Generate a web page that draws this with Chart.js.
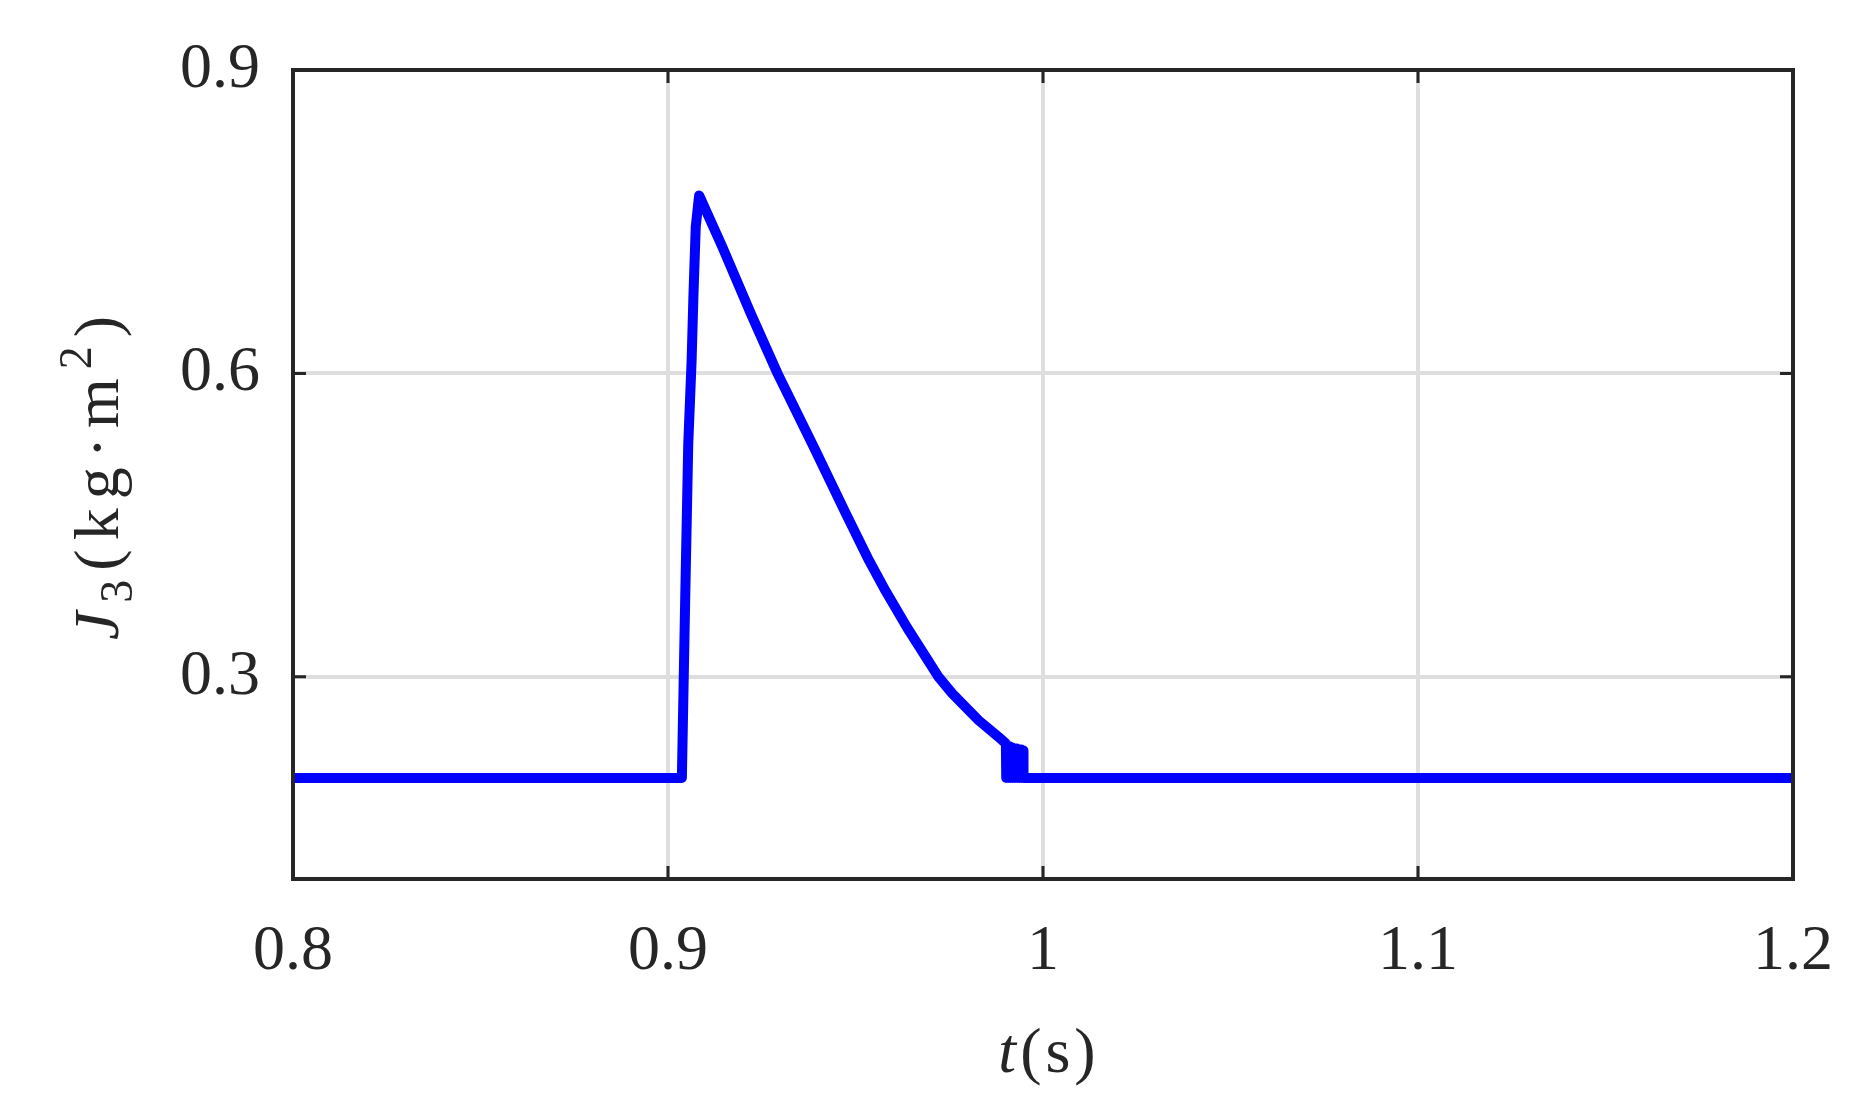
<!DOCTYPE html>
<html>
<head>
<meta charset="utf-8">
<script src="https://cdn.jsdelivr.net/npm/chart.js@4/dist/chart.umd.min.js"></script>
<style>
html,body{margin:0;padding:0;background:#fff;}
#wrap{width:1866px;height:1119px;}
</style>
</head>
<body>
<div id="wrap"><canvas id="c" width="1866" height="1119"></canvas></div>
<script>
// ---- data ----
const tData = [0.8, 0.9037, 0.9041, 0.9046, 0.9054, 0.9063, 0.9068, 0.9074, 0.9083,
  0.9145, 0.9221, 0.9292, 0.9389, 0.9474, 0.9536, 0.9580, 0.9637, 0.9721,
  0.9758, 0.9828, 0.9881, 0.9901,
  0.9902, 0.9905, 0.9908, 0.9911, 0.9914, 0.9917, 0.9920, 0.9923, 0.9926, 0.9929, 0.9932,
  0.9935, 0.9938, 0.9941, 0.9944, 0.9947, 0.9948, 1.2];
const jData = [0.2, 0.2, 0.28, 0.38, 0.53, 0.613, 0.679, 0.745, 0.776,
  0.725, 0.659, 0.600, 0.527, 0.4615, 0.415, 0.385, 0.349, 0.300,
  0.2835, 0.257, 0.2406, 0.234,
  0.2, 0.232, 0.2, 0.231, 0.2, 0.230, 0.2, 0.229, 0.2, 0.229, 0.2,
  0.228, 0.2, 0.228, 0.2, 0.227, 0.2, 0.2];
const xTicks = [0.8, 0.9, 1.0, 1.1, 1.2];
const yTicks = [0.3, 0.6, 0.9];
const xRange = [0.8, 1.2];
const yRange = [0.1, 0.9];

const FONT = '"Liberation Serif", "Times New Roman", Times, serif';
const INK = '#262626';

const boxPlugin = {
  id: 'box',
  afterDatasetsDraw(chart) {
    const {ctx, chartArea: a, scales} = chart;
    ctx.save();
    ctx.strokeStyle = INK;
    ctx.lineWidth = 3;
    const tl = 13;
    ctx.beginPath();
    xTicks.forEach(v => {
      const px = scales.x.getPixelForValue(v);
      ctx.moveTo(px, a.bottom); ctx.lineTo(px, a.bottom - tl);
      ctx.moveTo(px, a.top); ctx.lineTo(px, a.top + tl);
    });
    yTicks.forEach(v => {
      const py = scales.y.getPixelForValue(v);
      ctx.moveTo(a.left, py); ctx.lineTo(a.left + tl, py);
      ctx.moveTo(a.right, py); ctx.lineTo(a.right - tl, py);
    });
    ctx.stroke();
    ctx.lineWidth = 4;
    ctx.strokeRect(a.left, a.top, a.right - a.left, a.bottom - a.top);
    ctx.restore();
  },
  afterDraw(chart) {
    const {ctx, chartArea: a} = chart;
    ctx.save();
    ctx.fillStyle = INK;
    ctx.textBaseline = 'alphabetic';
    const fs = 64;
    const it = 'italic ' + fs + 'px ' + FONT;
    const rm = fs + 'px ' + FONT;

    function runWidth(parts, gap) {
      let tw = 0;
      parts.forEach(p => { ctx.font = p.f; p.w = ctx.measureText(p.t).width; tw += p.w; });
      return tw + gap * (parts.length - 1);
    }
    function drawRun(parts, gap, x) {
      parts.forEach(p => { ctx.font = p.f; ctx.fillText(p.t, x, p.dy); x += p.w + gap; });
    }

    // x title: t(s)
    const xt = [
      {t: 't', f: it, dy: 0}, {t: '(', f: rm, dy: 0},
      {t: 's', f: rm, dy: 0}, {t: ')', f: rm, dy: 0}
    ];
    const xgap = 4;
    const xw = runWidth(xt, xgap);
    ctx.save();
    ctx.translate((a.left + a.right) / 2 + 4, 1072);
    drawRun(xt, xgap, -xw / 2);
    ctx.restore();

    // y title: J_3(kg·m^2), rotated
    const sub = Math.round(fs * 0.72) + 'px ' + FONT;
    const yt = [
      {t: 'J', f: it, dy: 0},
      {t: '3', f: sub, dy: 14},
      {t: '(', f: rm, dy: 0},
      {t: 'k', f: rm, dy: 0},
      {t: 'g', f: rm, dy: 0},
      {t: '\u00B7', f: rm, dy: 0},
      {t: 'm', f: rm, dy: 0},
      {t: '2', f: sub, dy: -27},
      {t: ')', f: rm, dy: 0}
    ];
    const ygap = 9;
    const yw = runWidth(yt, ygap);
    ctx.translate(118, 478);
    ctx.rotate(-Math.PI / 2);
    drawRun(yt, ygap, -yw / 2);
    ctx.restore();
  }
};

function draw() {
  const pts = tData.map((t, i) => ({x: t, y: jData[i]}));
  new Chart(document.getElementById('c'), {
    type: 'line',
    data: {
      datasets: [{
        data: pts,
        borderColor: '#0000ff',
        borderWidth: 10,
        pointRadius: 0,
        fill: false,
        tension: 0,
        borderJoinStyle: 'round',
        borderCapStyle: 'butt'
      }]
    },
    options: {
      responsive: false,
      animation: false,
      devicePixelRatio: 1,
      layout: {padding: {left: 0, top: 70, right: 73, bottom: 0}},
      plugins: {legend: {display: false}, tooltip: {enabled: false}},
      scales: {
        x: {
          type: 'linear',
          min: xRange[0], max: xRange[1],
          afterBuildTicks: s => { s.ticks = xTicks.map(v => ({value: v})); },
          afterFit: s => { s.height = 1119 - 879; s.paddingLeft = 0; s.paddingRight = 0; },
          border: {display: false},
          grid: {color: '#dedede', lineWidth: 4, drawTicks: false},
          ticks: {
            padding: 35,
            color: INK,
            maxRotation: 0,
            font: {family: FONT, size: 64},
            callback: v => String(+Number(v).toFixed(2))
          }
        },
        y: {
          type: 'linear',
          min: yRange[0], max: yRange[1],
          afterBuildTicks: s => { s.ticks = yTicks.map(v => ({value: v})); },
          afterFit: s => { s.width = 293; s.paddingTop = 0; s.paddingBottom = 0; },
          border: {display: false},
          grid: {color: '#dedede', lineWidth: 4, drawTicks: false},
          ticks: {
            padding: 33,
            color: INK,
            font: {family: FONT, size: 64},
            callback: v => String(+Number(v).toFixed(2))
          }
        }
      }
    },
    plugins: [boxPlugin]
  });
}

Promise.all([
  document.fonts.load('64px "Liberation Serif"'),
  document.fonts.load('italic 64px "Liberation Serif"')
]).then(draw, draw);
</script>
</body>
</html>
